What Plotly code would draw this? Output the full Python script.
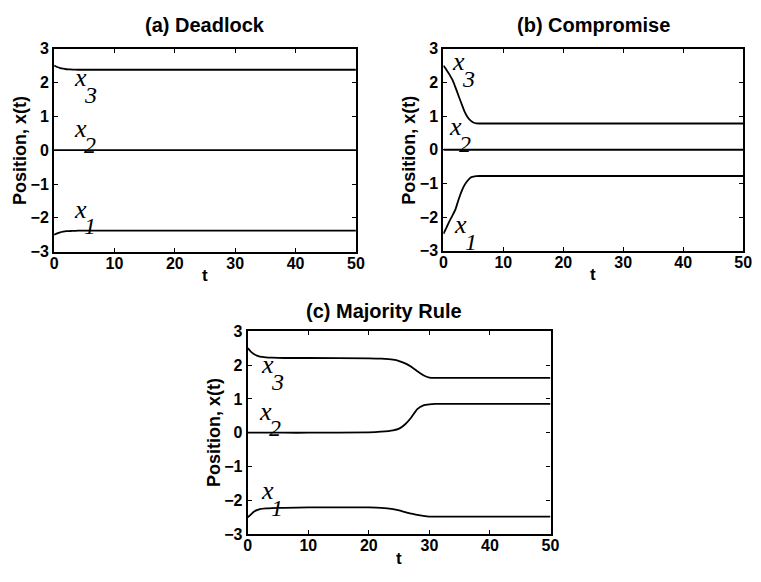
import plotly.graph_objects as go

W, H = 761, 582

# ---------------- data ----------------
# (a) Deadlock
t_a = [0, 0.5, 1, 1.5, 2, 2.5, 3, 4, 5, 50]
a_x3 = [2.5, 2.46, 2.43, 2.41, 2.395, 2.39, 2.385, 2.38, 2.38, 2.38]
a_x2 = [0, 0, 0, 0, 0, 0, 0, 0, 0, 0]
a_x1 = [-2.5, -2.46, -2.43, -2.41, -2.395, -2.39, -2.385, -2.38, -2.38, -2.38]

# (b) Compromise
t_b = [0, 0.5, 1, 1.5, 2, 2.5, 3, 3.5, 4, 4.5, 5, 5.5, 6, 50]
b_x3 = [2.5, 2.38, 2.24, 2.08, 1.86, 1.62, 1.38, 1.15, 0.98, 0.87, 0.81, 0.785, 0.78, 0.78]
b_x2 = [0] * 14
b_x1 = [-2.5, -2.32, -2.13, -1.96, -1.78, -1.5, -1.25, -1.06, -0.93, -0.83, -0.8, -0.785, -0.78, -0.78]

# (c) Majority Rule
t_c = [0, 0.5, 1, 1.5, 2, 3, 4, 6, 10, 20, 22, 24, 25, 26, 27, 28, 29, 30, 31, 32, 50]
c_x3 = [2.5, 2.4, 2.33, 2.28, 2.25, 2.23, 2.22, 2.21, 2.21, 2.2, 2.19, 2.16, 2.12, 2.05, 1.95, 1.82, 1.7, 1.63, 1.62, 1.62, 1.62]
c_x2 = [0, 0, 0, 0, 0, 0, 0, 0, 0, 0.01, 0.03, 0.07, 0.12, 0.25, 0.45, 0.7, 0.81, 0.84, 0.85, 0.85, 0.85]
c_x1 = [-2.5, -2.42, -2.34, -2.29, -2.26, -2.24, -2.23, -2.22, -2.21, -2.21, -2.22, -2.26, -2.3, -2.35, -2.39, -2.43, -2.46, -2.48, -2.48, -2.48, -2.48]

titles = ["(a) Deadlock", "(b) Compromise", "(c) Majority Rule"]
x_ticks = [0, 10, 20, 30, 40, 50]
y_ticks = [-3, -2, -1, 0, 1, 2, 3]

# label positions (t, y) of the "x" glyph for x1, x2, x3 in each panel
lab_a = [(4.3, -1.8), (4.3, 0.59), (4.4, 2.08)]
lab_b = [(2.9, -2.29), (2.0, 0.63), (2.6, 2.55)]
lab_c = [(3.25, -1.77), (2.9, 0.57), (3.25, 1.95)]
subs = ["1", "2", "3"]

# ---------------- layout (pixel boxes) ----------------
boxes = [
    (51, 358, 42, 251),   # left, right, top, bottom
    (447, 752, 42, 250),
    (248, 556, 333, 542),
]

def px_dom_x(l, r):
    return [l / W, r / W]

def px_dom_y(t, b):
    return [1 - b / H, 1 - t / H]

fig = go.Figure()

panels = [
    (t_a, [a_x1, a_x2, a_x3], lab_a),
    (t_b, [b_x1, b_x2, b_x3], lab_b),
    (t_c, [c_x1, c_x2, c_x3], lab_c),
]

BOLD = "Liberation Sans, Arial, sans-serif"
SERIF = "Liberation Serif, Times New Roman, serif"

annotations = []
for i, (tt, series, labs) in enumerate(panels):
    xa = "x" if i == 0 else f"x{i+1}"
    ya = "y" if i == 0 else f"y{i+1}"
    for s in series:
        fig.add_trace(go.Scatter(x=tt, y=s, mode="lines", xaxis=xa, yaxis=ya,
                                 line=dict(color="black", width=1.8, shape="spline", smoothing=0.6),
                                 showlegend=False, hoverinfo="skip"))
    l, r, top, b = boxes[i]
    axcfg = dict(showline=True, linecolor="black", linewidth=2.2, mirror="ticks",
                 ticks="inside", ticklen=4, tickwidth=1.3, tickcolor="black",
                 showgrid=False, zeroline=False,
                 tickfont=dict(family=BOLD, size=16, color="black", weight="bold"))
    fig.update_layout(**{
        ("xaxis" if i == 0 else f"xaxis{i+1}"): dict(
            domain=px_dom_x(l, r), range=[0, 50], tickvals=x_ticks,
            anchor=ya, ticklabelstandoff=-4, **axcfg),
        ("yaxis" if i == 0 else f"yaxis{i+1}"): dict(
            domain=px_dom_y(top, b), range=[-3, 3], tickvals=y_ticks,
            anchor=xa, ticklabelstandoff=0, **axcfg),
    })
    # panel title
    cx = (l + r) / 2 - (15 if i == 2 else 0)
    cy = top - (21 if i == 2 else 24)
    annotations.append(dict(text=f"<b>{titles[i]}</b>", x=cx / W, y=1 - cy / H,
                            xref="paper", yref="paper", showarrow=False,
                            xanchor="center", yanchor="middle",
                            font=dict(family=BOLD, size=20, color="black")))
    # y label
    annotations.append(dict(text="<b>Position, x(t)</b>", x=(l - 35) / W, y=1 - ((top + b) / 2) / H,
                            xref="paper", yref="paper", showarrow=False, textangle=-90,
                            xanchor="center", yanchor="middle",
                            font=dict(family=BOLD, size=18, color="black")))
    # x label
    annotations.append(dict(text="<b>t</b>", x=(l + r) / 2 / W, y=1 - (b + 25) / H,
                            xref="paper", yref="paper", showarrow=False,
                            xanchor="center", yanchor="middle",
                            font=dict(family=BOLD, size=17, color="black")))
    # curve labels
    for (lt, ly), sb in zip(labs, subs):
        annotations.append(dict(text="<i>x</i>", x=lt, y=ly, xref=xa, yref=ya,
                                showarrow=False, xanchor="center", yanchor="middle",
                                yshift=2, font=dict(family=SERIF, size=26, color="black")))
        annotations.append(dict(text=f"<i>{sb}</i>", x=lt, y=ly, xref=xa, yref=ya,
                                showarrow=False, xanchor="center", yanchor="middle",
                                xshift=10, yshift=-15, font=dict(family=SERIF, size=24, color="black")))

fig.update_layout(width=W, height=H, margin=dict(l=0, r=0, t=0, b=0),
                  paper_bgcolor="white", plot_bgcolor="white",
                  annotations=annotations)

fig.write_html("out.html")
